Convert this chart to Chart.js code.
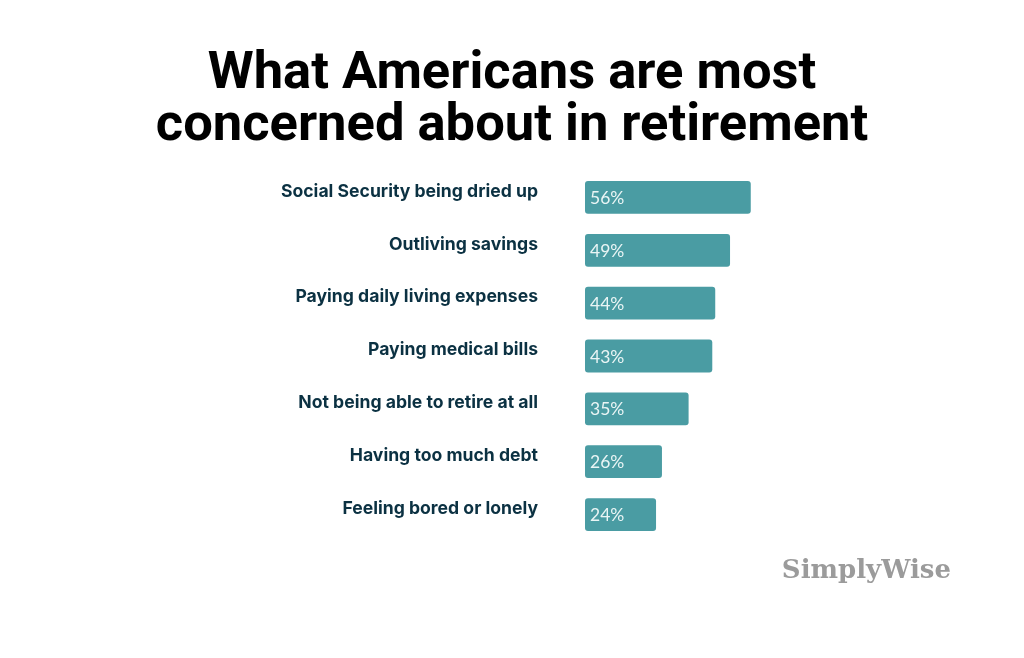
<!DOCTYPE html>
<html>
<head>
<meta charset="utf-8">
<script src="https://cdn.jsdelivr.net/npm/chart.js@4/dist/chart.umd.min.js"></script>
<style>
  html, body { margin: 0; padding: 0; background: #ffffff; }
  #wrap { width: 1024px; height: 658px; position: relative; }
</style>
</head>
<body>
<div id="wrap"><canvas id="chartConcerns"></canvas></div>
<script>
// datos
const categorias = [
  'Social Security being dried up',
  'Outliving savings',
  'Paying daily living expenses',
  'Paying medical bills',
  'Not being able to retire at all',
  'Having too much debt',
  'Feeling bored or lonely'
];
const porcentajes = [56, 49, 44, 43, 35, 26, 24];
const tituloLineas = ['What Americans are most', 'concerned about in retirement'];
const marca = 'SimplyWise';

// titulo centrado en toda la pagina
const tituloCentrado = {
  id: 'tituloCentrado',
  afterDraw(chart) {
    const ctx = chart.ctx;
    ctx.save();
    ctx.font = 'bold 52.5px Roboto, sans-serif';
    ctx.fillStyle = '#000000';
    ctx.textAlign = 'center';
    ctx.textBaseline = 'alphabetic';
    tituloLineas.forEach((linea, i) => {
      ctx.fillText(linea, chart.width / 2, 88 + i * 52);
    });
    ctx.restore();
  }
};

// etiquetas de valor dentro de cada barra
const etiquetasValor = {
  id: 'etiquetasValor',
  afterDatasetsDraw(chart) {
    const ctx = chart.ctx;
    const meta = chart.getDatasetMeta(0);
    ctx.save();
    ctx.font = '17.5px Lato, "Noto Sans", sans-serif';
    ctx.fillStyle = '#eaf5f5';
    ctx.textAlign = 'left';
    ctx.textBaseline = 'middle';
    meta.data.forEach((bar, i) => {
      ctx.fillText(porcentajes[i] + '%', bar.base + 5, bar.y + 1);
    });
    ctx.restore();
  }
};

// logo de texto abajo a la derecha
const logoMarca = {
  id: 'logoMarca',
  afterDraw(chart) {
    const ctx = chart.ctx;
    ctx.save();
    ctx.font = 'bold 26px "DejaVu Serif", serif';
    ctx.fillStyle = '#9b9b9b';
    ctx.textAlign = 'right';
    ctx.textBaseline = 'alphabetic';
    ctx.fillText(marca, 951, 578);
    ctx.restore();
  }
};

const ctxConcerns = document.getElementById('chartConcerns').getContext('2d');
new Chart(ctxConcerns, {
  type: 'bar',
  data: {
    labels: categorias,
    datasets: [{
      data: porcentajes,
      backgroundColor: '#4a9ca3',
      borderRadius: 3,
      borderSkipped: false,
      barPercentage: 1,
      categoryPercentage: 0.62
    }]
  },
  options: {
    indexAxis: 'y',
    responsive: true,
    maintainAspectRatio: false,
    animation: false,
    layout: { padding: { top: 171, right: 143, bottom: 117, left: 0 } },
    plugins: {
      legend: { display: false },
      tooltip: { enabled: false },
      title: { display: false }
    },
    scales: {
      x: {
        display: false,
        min: 0,
        max: 100
      },
      y: {
        grid: { display: false },
        border: { display: false },
        afterFit(scale) { scale.width = 585; },
        ticks: {
          color: '#0b3142',
          padding: 39,
          labelOffset: -6,
          font: { family: 'Inter', weight: 'bold', size: 17.6 }
        }
      }
    }
  },
  plugins: [etiquetasValor, tituloCentrado, logoMarca]
});
</script>
</body>
</html>
